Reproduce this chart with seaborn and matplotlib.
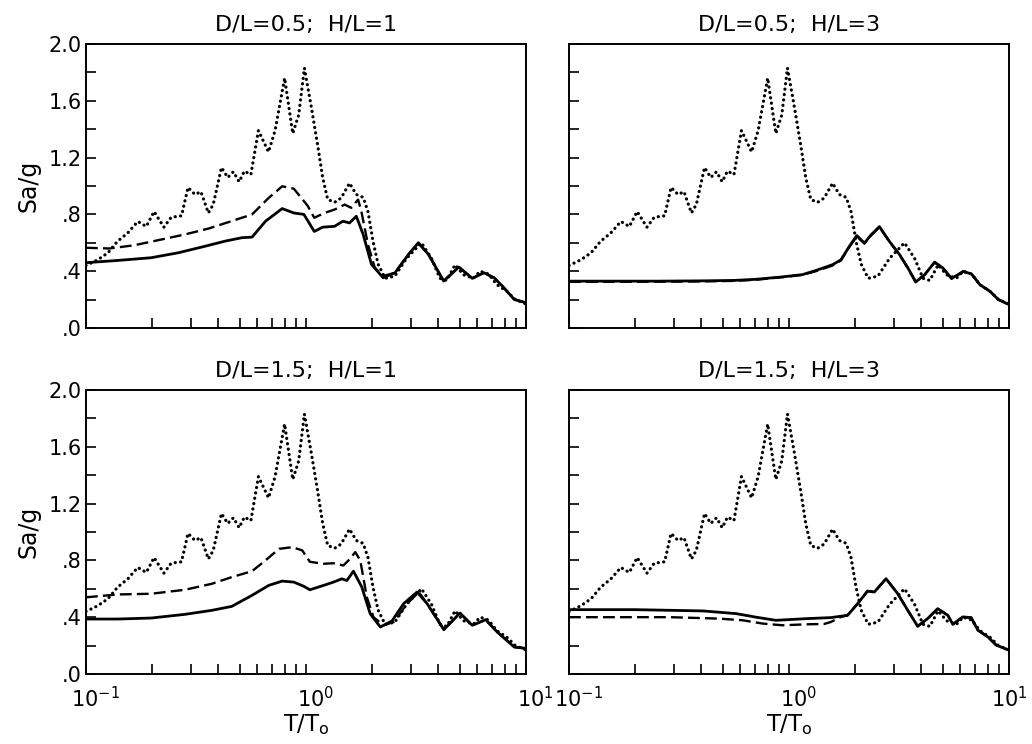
import numpy as np
import pandas as pd
import matplotlib
matplotlib.use("Agg")
import matplotlib.pyplot as plt
import matplotlib.transforms as mtransforms
from matplotlib.ticker import FuncFormatter, MultipleLocator, NullFormatter, LogLocator
import seaborn as sns

# ---------------- data ----------------
titles = ["D/L=0.5;  H/L=1", "D/L=0.5;  H/L=3", "D/L=1.5;  H/L=1", "D/L=1.5;  H/L=3"]

# free-field spectrum (dotted), same in all panels
T_ff = [0.100, 0.113, 0.126, 0.139, 0.155, 0.172, 0.188, 0.204, 0.226, 0.244, 0.272, 0.291,
        0.313, 0.333, 0.360, 0.379, 0.413, 0.441, 0.468, 0.497, 0.525, 0.562, 0.608, 0.676,
        0.724, 0.800, 0.871, 0.927, 0.984, 1.054, 1.130, 1.191, 1.256, 1.349, 1.445, 1.578,
        1.694, 1.820, 1.914, 2.018, 2.128, 2.291, 2.535, 2.864, 3.350, 3.724, 4.064, 4.365,
        4.764, 5.200, 5.768, 6.194, 6.761, 7.379, 8.204, 8.954, 10.0]
Sa_ff = [0.44, 0.48, 0.53, 0.61, 0.67, 0.75, 0.715, 0.82, 0.71, 0.78, 0.79, 0.99,
         0.94, 0.96, 0.81, 0.87, 1.13, 1.06, 1.10, 1.03, 1.105, 1.08, 1.39, 1.24,
         1.39, 1.76, 1.37, 1.50, 1.83, 1.57, 1.29, 1.06, 0.905, 0.885, 0.915, 1.02,
         0.94, 0.92, 0.82, 0.61, 0.45, 0.35, 0.365, 0.49, 0.60, 0.49, 0.35, 0.335,
         0.445, 0.375, 0.35, 0.40, 0.38, 0.305, 0.258, 0.20, 0.17]

# panel 1: D/L=0.5, H/L=1
T_s1 = [0.100, 0.140, 0.198, 0.263, 0.336, 0.430, 0.512, 0.569, 0.655, 0.780, 0.881, 0.979,
        1.091, 1.191, 1.349, 1.472, 1.578, 1.694, 1.820, 1.986, 2.244, 2.541, 2.924, 3.243,
        3.606, 4.227, 4.955, 5.702, 6.442, 7.161, 7.816, 8.851, 10.0]
Sa_s1 = [0.46, 0.476, 0.495, 0.53, 0.57, 0.612, 0.636, 0.64, 0.752, 0.841, 0.81, 0.80,
         0.68, 0.71, 0.716, 0.752, 0.74, 0.787, 0.659, 0.448, 0.354, 0.389, 0.518, 0.60,
         0.518, 0.331, 0.429, 0.35, 0.389, 0.354, 0.295, 0.201, 0.178]
T_d1 = [0.100, 0.128, 0.166, 0.220, 0.282, 0.360, 0.460, 0.569, 0.678, 0.780, 0.881, 0.948,
        1.019, 1.091, 1.213, 1.349, 1.500, 1.607, 1.726, 1.786, 1.914, 2.056, 2.244, 2.541,
        2.924, 3.243, 3.606, 4.227, 4.955, 5.702, 6.442, 7.161, 7.816, 8.851, 10.0]
Sa_d1 = [0.565, 0.56, 0.583, 0.623, 0.659, 0.70, 0.753, 0.80, 0.917, 0.998, 0.981, 0.92,
         0.86, 0.776, 0.81, 0.834, 0.869, 0.846, 0.904, 0.822, 0.588, 0.425, 0.366, 0.389,
         0.518, 0.60, 0.518, 0.331, 0.429, 0.35, 0.389, 0.354, 0.295, 0.201, 0.178]

# panel 2: D/L=0.5, H/L=3
T_s2 = [0.100, 0.251, 0.398, 0.562, 0.708, 0.933, 1.151, 1.324, 1.578, 1.722, 1.879, 2.032,
        2.203, 2.360, 2.576, 2.864, 3.184, 3.475, 3.767, 4.140, 4.592, 5.012, 5.483, 6.194,
        6.761, 7.379, 8.204, 8.954, 10.0]
Sa_s2 = [0.33, 0.33, 0.332, 0.335, 0.343, 0.36, 0.376, 0.405, 0.446, 0.48, 0.574, 0.651,
         0.598, 0.656, 0.714, 0.609, 0.516, 0.422, 0.324, 0.376, 0.464, 0.422, 0.348, 0.399,
         0.38, 0.305, 0.258, 0.20, 0.165]
T_d2 = T_s2
Sa_d2 = [0.325, 0.326, 0.328, 0.332, 0.34, 0.358, 0.374, 0.40, 0.44, 0.476, 0.57, 0.645,
         0.595, 0.652, 0.71, 0.607, 0.514, 0.42, 0.324, 0.376, 0.462, 0.42, 0.348, 0.397,
         0.378, 0.305, 0.258, 0.20, 0.165]

# panel 3: D/L=1.5, H/L=1
T_s3 = [0.100, 0.140, 0.198, 0.282, 0.373, 0.460, 0.569, 0.678, 0.780, 0.881, 0.979, 1.042,
        1.199, 1.334, 1.455, 1.535, 1.644, 1.795, 1.959, 2.178, 2.460, 2.780, 3.199, 3.556,
        4.236, 5.012, 5.702, 6.561, 7.413, 8.851, 10.0]
Sa_s3 = [0.387, 0.387, 0.394, 0.42, 0.448, 0.476, 0.554, 0.624, 0.654, 0.647, 0.617, 0.593,
         0.623, 0.647, 0.67, 0.658, 0.724, 0.612, 0.424, 0.331, 0.373, 0.495, 0.577, 0.495,
         0.312, 0.429, 0.343, 0.382, 0.295, 0.19, 0.18]
T_d3 = [0.100, 0.140, 0.198, 0.282, 0.373, 0.460, 0.569, 0.655, 0.754, 0.867, 0.962, 1.042,
        1.199, 1.334, 1.479, 1.585, 1.675, 1.766, 1.892, 2.028, 2.254, 2.506, 2.884, 3.258,
        3.556, 4.236, 5.012, 5.702, 6.561, 7.413, 8.851, 10.0]
Sa_d3 = [0.54, 0.56, 0.565, 0.593, 0.635, 0.682, 0.724, 0.80, 0.881, 0.893, 0.87, 0.79,
         0.776, 0.78, 0.764, 0.81, 0.858, 0.80, 0.54, 0.40, 0.343, 0.366, 0.495, 0.577,
         0.495, 0.312, 0.429, 0.343, 0.382, 0.295, 0.19, 0.18]

# panel 4: D/L=1.5, H/L=3
T_s4 = [0.100, 0.200, 0.407, 0.575, 0.708, 0.871, 1.213, 1.549, 1.845, 2.051, 2.275, 2.443,
        2.761, 3.119, 3.467, 3.846, 4.266, 4.742, 5.272, 5.559, 6.166, 6.730, 7.228, 8.017,
        8.750, 10.0]
Sa_s4 = [0.453, 0.453, 0.444, 0.425, 0.40, 0.378, 0.39, 0.397, 0.413, 0.495, 0.584, 0.577,
         0.671, 0.566, 0.448, 0.336, 0.39, 0.46, 0.413, 0.35, 0.402, 0.397, 0.308, 0.261,
         0.203, 0.168]
T_d4 = [0.100, 0.288, 0.479, 0.617, 0.759, 0.933, 1.213, 1.445, 1.549, 1.722, 1.845, 2.051,
        2.275, 2.443, 2.761, 3.119, 3.467, 3.846, 4.266, 4.742, 5.272, 5.559, 6.166, 6.730,
        7.228, 8.017, 8.750, 10.0]
Sa_d4 = [0.40, 0.40, 0.39, 0.378, 0.355, 0.343, 0.35, 0.352, 0.366, 0.402, 0.413, 0.495,
         0.584, 0.577, 0.671, 0.566, 0.448, 0.336, 0.39, 0.46, 0.413, 0.35, 0.402, 0.397,
         0.308, 0.261, 0.203, 0.168]

solid = [(T_s1, Sa_s1), (T_s2, Sa_s2), (T_s3, Sa_s3), (T_s4, Sa_s4)]
dashed = [(T_d1, Sa_d1), (T_d2, Sa_d2), (T_d3, Sa_d3), (T_d4, Sa_d4)]

# ---------------- style ----------------
sns.set_theme(style="white")
plt.rcParams["font.family"] = ["DejaVu Sans"]
plt.rcParams["mathtext.fontset"] = "dejavusans"

fig, axes = plt.subplots(2, 2, figsize=(10.32, 7.44), dpi=100)
fig.subplots_adjust(left=0.0833, right=0.9777, bottom=0.0941, top=0.9409,
                    wspace=0.098, hspace=0.218)

def yfmt(v, pos):
    q = v / 0.4
    if abs(q - round(q)) > 1e-6:
        return ""
    s = f"{v:.1f}"
    if s.startswith("0"):
        s = s[1:]
    return s

for i, ax in enumerate(axes.flat):
    row, col = divmod(i, 2)
    sns.lineplot(x=T_ff, y=Sa_ff, ax=ax, color="black", lw=2.3,
                 linestyle=(0, (0.05, 1.65)), dash_capstyle="round")
    Td, Sd = dashed[i]
    sns.lineplot(x=Td, y=Sd, ax=ax, color="black", lw=1.7, linestyle=(0, (5, 2.2)))
    Ts, Ss = solid[i]
    sns.lineplot(x=Ts, y=Ss, ax=ax, color="black", lw=2.0, linestyle="-")

    ax.set_xscale("log")
    ax.set_xlim(0.1, 10)
    ax.set_ylim(0, 2.0)
    ax.yaxis.set_major_locator(MultipleLocator(0.2))
    ax.yaxis.set_major_formatter(FuncFormatter(yfmt))
    ax.xaxis.set_major_locator(LogLocator(base=10))
    ax.xaxis.set_minor_locator(LogLocator(base=10, subs=np.arange(2, 10)))
    ax.xaxis.set_minor_formatter(NullFormatter())
    ax.tick_params(which="both", direction="in", top=False, right=False,
                   left=True, bottom=True, color="black", labelcolor="black",
                   labelsize=15, width=1.2)
    ax.tick_params(axis="y", which="major", length=7, pad=3)
    ax.tick_params(axis="x", which="both", length=7, pad=9)
    for sp in ax.spines.values():
        sp.set_visible(True)
        sp.set_color("black")
        sp.set_linewidth(1.4)
    ax.set_title(titles[i], fontsize=16, color="black", pad=9)
    if col == 0:
        ax.set_ylabel("Sa/g", fontsize=17, color="black", labelpad=6)
    else:
        ax.set_ylabel("")
        ax.tick_params(axis="y", labelleft=False)
    if row == 1:
        ax.set_xlabel(r"T/T$_\mathrm{o}$", fontsize=16.5, color="black", labelpad=0)
    else:
        ax.set_xlabel("")
        ax.tick_params(axis="x", labelbottom=False)
    ax.grid(False)
    ax.set_facecolor("white")

# nudge the decade labels of the bottom row slightly to the right (as in the reference)
fig.canvas.draw()
for col in range(2):
    ax = axes[1, col]
    for tick in ax.xaxis.get_major_ticks():
        loc = tick.get_loc()
        if loc is None:
            continue
        dx = 7 if not (col == 1 and loc > 9.9) else 0
        if dx:
            sh = mtransforms.ScaledTranslation(dx / 72, 0, fig.dpi_scale_trans)
            tick.label1.set_transform(tick.label1.get_transform() + sh)

fig.savefig("out.png", dpi=100, facecolor="white")
